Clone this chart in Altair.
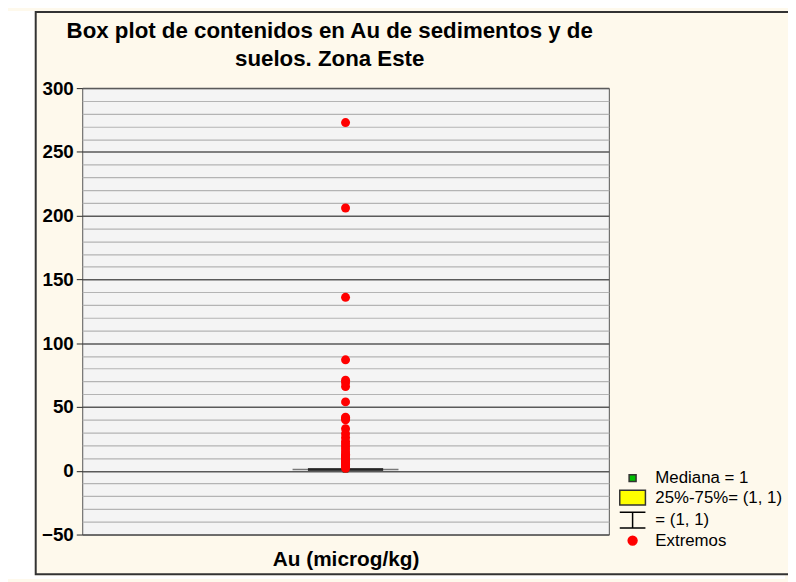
import altair as alt
import pandas as pd

# ---- data ----
VARIABLE = ["Au"]
EXTREMOS = [273, 206, 136, 87, 71, 69, 66, 54, 42, 41, 40, 33, 29, 26, 23, 21,
            19, 17, 15, 13, 12, 11, 10, 9, 8, 7, 6, 5, 4, 3, 2]
MEDIANA = [1]
Q1 = [1]
Q3 = [1]
WHISK_LOW = [1]
WHISK_HIGH = [1]
LEGEND_LABELS = ["Mediana = 1", "25%-75%= (1, 1)", "= (1, 1)", "Extremos"]
Y_TICKS = list(range(-50, 301, 10))

FONT = "Arial, Liberation Sans, sans-serif"
CREAM = "#FEF9EC"

pts = pd.DataFrame({"var": VARIABLE * len(EXTREMOS), "val": EXTREMOS})
box = pd.DataFrame({"var": VARIABLE, "med": MEDIANA, "q1": Q1, "q3": Q3,
                    "lo": WHISK_LOW, "hi": WHISK_HIGH})
leg = pd.DataFrame({"leg": LEGEND_LABELS})
deco = pd.DataFrame({"k": [0]})

W, H = 532, 451

x_enc = alt.X("var:N", scale=alt.Scale(domain=VARIABLE),
              axis=alt.Axis(labels=False, ticks=False, domain=False,
                            title="Au (microg/kg)", titleFont=FONT,
                            titleFontSize=21, titleFontWeight="bold",
                            titleColor="black", titlePadding=14))
y_scale = alt.Scale(domain=[-50, 300], nice=False, zero=False)
y_axis = alt.Axis(values=Y_TICKS, tickCount=100, title=None, domain=False,
                  labelExpr="datum.value % 50 === 0 ? datum.label : ''",
                  labelFont=FONT, labelFontSize=19, labelFontWeight="bold",
                  labelColor="black", labelPadding=3, tickSize=6,
                  labelOverlap=False,
                  tickColor={"condition": {"test": "datum.value % 50 === 0", "value": "#222"},
                             "value": "transparent"},
                  grid=True,
                  gridColor={"condition": {"test": "datum.value % 50 === 0", "value": "#5a5a5a"},
                             "value": "#b4b4b4"},
                  gridWidth={"condition": {"test": "datum.value % 50 === 0", "value": 1.5},
                             "value": 1.2},
                  gridOpacity=1)

# decorative frame pieces (page background strip + frame border)
white_left = alt.Chart(deco).mark_rect(fill="white", clip=False).encode(
    x=alt.value(-75), x2=alt.value(-48), y=alt.value(-78), y2=alt.value(496))
white_bottom = alt.Chart(deco).mark_rect(fill="white", clip=False).encode(
    x=alt.value(-75), x2=alt.value(710), y=alt.value(492), y2=alt.value(496))
frame = alt.Chart(deco).mark_rect(fillOpacity=0, stroke="#333333", strokeWidth=2,
                                  clip=False).encode(
    x=alt.value(-47), x2=alt.value(720), y=alt.value(-77), y2=alt.value(491))

whisker = alt.Chart(box).mark_tick(color="#444444", thickness=1.3, size=107).encode(
    x=x_enc, y=alt.Y("lo:Q", scale=y_scale, axis=y_axis))
boxm = alt.Chart(box).mark_tick(color="black", thickness=3, size=76).encode(
    x=x_enc, y=alt.Y("q1:Q", scale=y_scale))
med = alt.Chart(box).mark_point(shape="square", filled=True, color="#00c000",
                                stroke="#333", strokeWidth=0.8, size=30, opacity=1).encode(
    x=x_enc, y=alt.Y("med:Q", scale=y_scale))
points = alt.Chart(pts).mark_circle(color="#ff0000", size=82, opacity=1).encode(
    x=x_enc, y=alt.Y("val:Q", scale=y_scale))

SHAPES = [
    "M-0.44,-0.44H0.44V0.44H-0.44Z",
    "M-1.62,-0.94H1.62V0.94H-1.62Z",
    "M-1.62,-1H1.62M0,-1V1M-1.62,1H1.62",
    "M-0.56,0A0.56,0.56,0,1,0,0.56,0A0.56,0.56,0,1,0,-0.56,0Z",
]
FILLS = ["#00c000", "#ffff00", "transparent", "#ff0000"]
STROKES = ["#333333", "#333333", "#000000", "#ff0000"]
legend = alt.Legend(title=None, orient="none", legendX=547, legendY=385,
                    labelFont=FONT, labelFontSize=17, labelColor="black",
                    symbolSize=256, symbolStrokeWidth=1.5, labelOffset=14,
                    rowPadding=0.7, symbolOpacity=1)
legend_layer = alt.Chart(leg).mark_point(filled=True).encode(
    y=alt.Y("yy:Q", scale=y_scale),
    shape=alt.Shape("leg:N", scale=alt.Scale(domain=LEGEND_LABELS, range=SHAPES), legend=legend),
    fill=alt.Fill("leg:N", scale=alt.Scale(domain=LEGEND_LABELS, range=FILLS), legend=legend),
    stroke=alt.Stroke("leg:N", scale=alt.Scale(domain=LEGEND_LABELS, range=STROKES), legend=legend),
).transform_filter("datum.leg == 'none'")

chart = alt.layer(white_left, white_bottom, frame, whisker, boxm, med, points, legend_layer).properties(
    width=W, height=H, autosize="none",
    padding={"left": 75, "top": 78, "right": 181, "bottom": 45},
    background=CREAM,
    title=alt.TitleParams(
        text=["Box plot de contenidos en Au de sedimentos y de", "suelos. Zona Este"],
        font=FONT, fontSize=22.5, fontWeight="bold", color="black",
        anchor="middle", frame="group", dx=-16, dy=80, offset=20, lineHeight=28),
).configure_view(fill="#F4F4F4", stroke="#555555", strokeWidth=1)

chart.save("out.html", embed_options={"renderer": "svg", "actions": False})
